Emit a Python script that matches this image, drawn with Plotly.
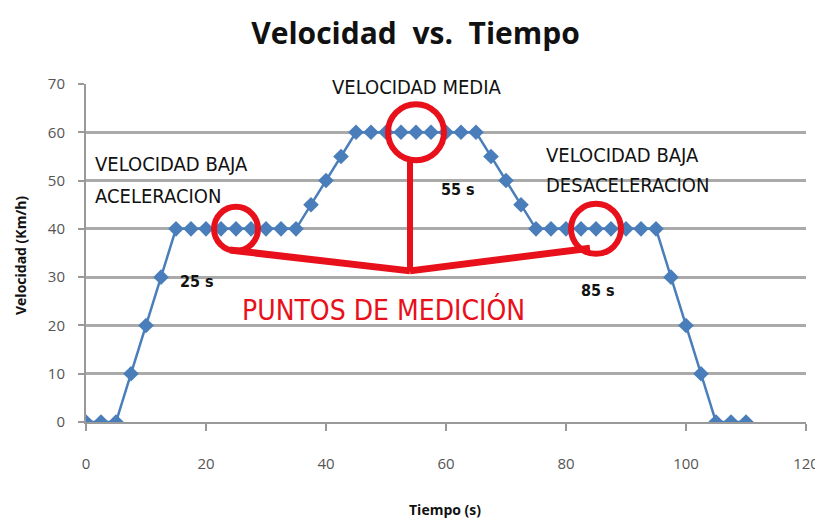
import plotly.graph_objects as go

tiempo = [i * 2.5 for i in range(45)]
velocidad = [0, 0, 0, 10, 20, 30,
             40, 40, 40, 40, 40, 40, 40, 40, 40,
             45, 50, 55,
             60, 60, 60, 60, 60, 60, 60, 60, 60,
             55, 50, 45,
             40, 40, 40, 40, 40, 40, 40, 40, 40,
             30, 20, 10, 0, 0, 0]

x_ticks = [0, 20, 40, 60, 80, 100, 120]
y_ticks = [0, 10, 20, 30, 40, 50, 60, 70]

puntos_t = [25, 55, 85]
puntos_v = [40, 60, 40]
circle_r = [22, 28, 25]
union = (54, 31.3)
left_start = (24, 35.6)
right_end = (84, 36)

RED = "#e8101a"
NARROW = "DejaVu Sans Condensed, Liberation Sans Narrow, Arial Narrow, sans-serif"
MAIN = "Open Sans, sans-serif"

fig = go.Figure()
fig.add_trace(go.Scatter(
    x=tiempo, y=velocidad, mode="lines+markers",
    line=dict(color="#4a7ebb", width=2.5),
    marker=dict(symbol="diamond", size=12, color="#4a7ebb"),
    showlegend=False, hoverinfo="skip"))

shapes = []
for t, v, r in zip(puntos_t, puntos_v, circle_r):
    shapes.append(dict(type="circle", xref="x", yref="y", xsizemode="pixel", ysizemode="pixel",
                       xanchor=t, yanchor=v, x0=-r, x1=r, y0=-r, y1=r,
                       line=dict(color=RED, width=6), layer="above"))
shapes.append(dict(type="line", xref="x", yref="y", x0=left_start[0], y0=left_start[1],
                   x1=union[0], y1=union[1], line=dict(color=RED, width=7)))
shapes.append(dict(type="line", xref="x", yref="y", x0=union[0], y0=union[1],
                   x1=right_end[0], y1=right_end[1], line=dict(color=RED, width=7)))
shapes.append(dict(type="line", xref="x", yref="y", x0=union[0], y0=union[1],
                   x1=union[0], y1=54.3, line=dict(color=RED, width=6)))

ann = []
def txt(x, y, s, size=20, color="#111", xanchor="left", font=NARROW):
    ann.append(dict(x=x, y=y, xref="x", yref="y", text=s, showarrow=False,
                    xanchor=xanchor, yanchor="middle", align="left",
                    font=dict(family=font, size=size, color=color)))

txt(55, 69.3, "VELOCIDAD MEDIA", xanchor="center")
txt(1.2, 53.5, "VELOCIDAD BAJA")
txt(1.2, 46.9, "ACELERACION")
txt(76.3, 55.2, "VELOCIDAD BAJA")
txt(76.3, 49, "DESACELERACION")
txt(62, 48.2, "<b>55 s</b>", size=16, xanchor="center")
txt(18.5, 29.2, "<b>25 s</b>", size=16, xanchor="center")
txt(85.3, 27.3, "<b>85 s</b>", size=16, xanchor="center")
txt(49.5, 23.2, "PUNTOS DE MEDICIÓN", size=28, color=RED, xanchor="center")

ann.append(dict(x=0.4986, y=-0.26, xref="paper", yref="paper", xanchor="center", yanchor="middle",
                text="<b>Tiempo (s)</b>", showarrow=False,
                font=dict(family=MAIN, size=14, color="#111")))
ann.append(dict(x=-0.0917, y=0.494, xref="paper", yref="paper", xanchor="center", yanchor="middle",
                textangle=-90, text="<b>Velocidad (Km/h)</b>", showarrow=False,
                font=dict(family=MAIN, size=14, color="#111")))

fig.update_layout(
    width=815, height=514,
    margin=dict(l=78, r=17, t=76, b=100, autoexpand=False),
    paper_bgcolor="white", plot_bgcolor="white",
    title=dict(text="<b>Velocidad  vs.  Tiempo</b>", x=0.5, xanchor="center", y=0.951,
               yanchor="middle", font=dict(family=MAIN, size=30, color="#111")),
    shapes=shapes, annotations=ann,
    xaxis=dict(range=[0, 120], tickvals=x_ticks, showgrid=False, zeroline=False, automargin=False,
               showline=True, linecolor="#999", linewidth=2, ticks="outside",
               ticklen=7, tickcolor="#999", tickwidth=2, ticklabelstandoff=20,
               tickfont=dict(family=MAIN, size=15, color="#555")),
    yaxis=dict(range=[0, 70], tickvals=y_ticks, showgrid=True, gridcolor="#aaa", gridwidth=3,
               zeroline=False, showline=True, linecolor="#999", linewidth=2, ticks="outside",
               ticklen=6, tickcolor="#999", tickwidth=2, automargin=False, ticklabelstandoff=10,
               tickfont=dict(family=MAIN, size=15, color="#555")),
)
fig.write_html("out.html")
